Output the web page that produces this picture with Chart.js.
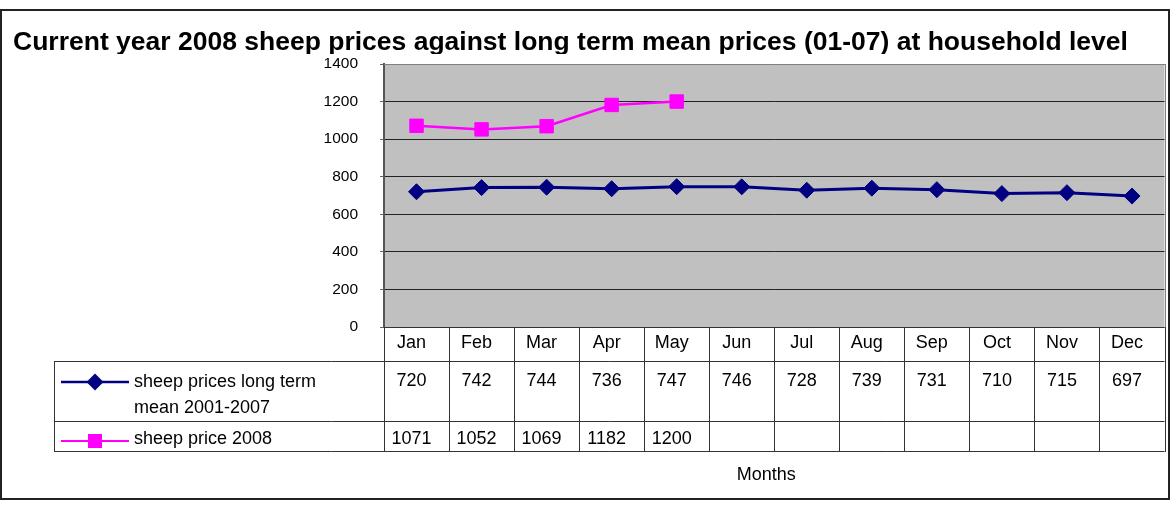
<!DOCTYPE html>
<html>
<head>
<meta charset="utf-8">
<script src="https://cdn.jsdelivr.net/npm/chart.js@4/dist/chart.umd.min.js"></script>
<style>
html,body{margin:0;padding:0;background:#fff;}
#wrap{width:1175px;height:508px;position:relative;}
canvas{display:block;}
</style>
</head>
<body>
<div id="wrap"><canvas id="c" width="1175" height="508"></canvas></div>
<script>
// ---- data ----
const categories = ['Jan','Feb','Mar','Apr','May','Jun','Jul','Aug','Sep','Oct','Nov','Dec'];
const longTermMean = [720, 742, 744, 736, 747, 746, 728, 739, 731, 710, 715, 697];
const price2008 = [1071, 1052, 1069, 1182, 1200, null, null, null, null, null, null, null];
const yTicks = [0, 200, 400, 600, 800, 1000, 1200, 1400];
const seriesNames = [['sheep prices long term', 'mean 2001-2007'], ['sheep price 2008']];
const chartTitle = 'Current year 2008 sheep prices against long term mean prices (01-07) at household level';
const xAxisTitle = 'Months';

const FONT = "'Liberation Sans', Arial, Helvetica, sans-serif";
const BLUE = '#000080';
const PINK = '#FF00FF';

function hline(ctx, x1, x2, y) { ctx.beginPath(); ctx.moveTo(x1, Math.round(y) + 0.5); ctx.lineTo(x2, Math.round(y) + 0.5); ctx.stroke(); }
function vline(ctx, x, y1, y2) { ctx.beginPath(); ctx.moveTo(Math.round(x) + 0.5, y1); ctx.lineTo(Math.round(x) + 0.5, y2); ctx.stroke(); }

function diamond(ctx, x, y, r, color) {
  ctx.beginPath();
  ctx.moveTo(x - r, y); ctx.lineTo(x, y - r); ctx.lineTo(x + r, y); ctx.lineTo(x, y + r);
  ctx.closePath(); ctx.fillStyle = color; ctx.fill();
}
function square(ctx, x, y, s, color) {
  ctx.fillStyle = color; ctx.fillRect(x - s / 2, y - s / 2, s, s);
}

const tablePlugin = {
  id: 'tablePlugin',
  beforeDraw(chart) {
    const { ctx, chartArea: a } = chart;
    ctx.save();
    ctx.fillStyle = '#fff';
    ctx.fillRect(0, 0, chart.width, chart.height);
    ctx.strokeStyle = '#222';
    ctx.lineWidth = 2;
    ctx.strokeRect(1, 10, 1168, 489);
    ctx.fillStyle = '#C0C0C0';
    ctx.fillRect(a.left, a.top, a.right - a.left, a.bottom - a.top);
    // title (clipped at its bottom like the original text box)
    ctx.beginPath();
    ctx.rect(0, 0, chart.width, 54);
    ctx.clip();
    ctx.fillStyle = '#000';
    ctx.font = 'bold 26.5px ' + FONT;
    ctx.textAlign = 'left';
    ctx.textBaseline = 'alphabetic';
    ctx.fillText(chartTitle, 13, 50);
    ctx.restore();
  },
  afterDraw(chart) {
    const { ctx, chartArea: a } = chart;
    const xs = chart.scales.x;
    const n = categories.length;
    const w = xs.getPixelForValue(1) - xs.getPixelForValue(0);
    const edges = [];
    for (let i = 0; i < n; i++) edges.push(xs.getPixelForValue(i) - w / 2);
    edges.push(xs.getPixelForValue(n - 1) + w / 2);

    ctx.save();
    // plot border
    ctx.strokeStyle = '#808080';
    ctx.lineWidth = 1;
    hline(ctx, a.left, a.right, a.top);
    vline(ctx, a.right, a.top, a.bottom);

    const r0 = Math.round(a.bottom), r1 = r0 + 34, r2 = r1 + 60, r3 = r2 + 30;
    const legL = 54;
    ctx.strokeStyle = '#333';
    ctx.lineWidth = 1;
    hline(ctx, a.left, a.right, r0);
    hline(ctx, legL, a.right, r1);
    hline(ctx, legL, a.right, r2);
    hline(ctx, legL, a.right, r3);
    edges.forEach(x => vline(ctx, x, r0, r3 + 1));
    vline(ctx, legL, r1, r3 + 1);

    ctx.fillStyle = '#000';
    ctx.font = '18px ' + FONT;
    ctx.textAlign = 'center';
    ctx.textBaseline = 'alphabetic';
    categories.forEach((c, i) => {
      const cx = xs.getPixelForValue(i) - 5;
      ctx.fillText(c, cx, r0 + 21);
      if (longTermMean[i] != null) ctx.fillText(String(longTermMean[i]), cx, r1 + 25);
      if (price2008[i] != null) ctx.fillText(String(price2008[i]), cx, r2 + 23);
    });

    // legend keys
    ctx.textAlign = 'left';
    ctx.fillText(seriesNames[0][0], 134, r1 + 26);
    ctx.fillText(seriesNames[0][1], 134, r1 + 52);
    ctx.fillText(seriesNames[1][0], 134, r2 + 23);

    ctx.lineWidth = 2.5;
    ctx.strokeStyle = BLUE;
    ctx.beginPath(); ctx.moveTo(61, r1 + 21); ctx.lineTo(129, r1 + 21); ctx.stroke();
    diamond(ctx, 95, r1 + 21, 8.5, BLUE);
    ctx.lineWidth = 2;
    ctx.strokeStyle = PINK;
    ctx.beginPath(); ctx.moveTo(61, r2 + 20); ctx.lineTo(129, r2 + 20); ctx.stroke();
    square(ctx, 95, r2 + 20, 14, PINK);

    // axis title
    ctx.fillStyle = '#000';
    ctx.textAlign = 'center';
    ctx.fillText(xAxisTitle, (a.left + a.right) / 2 - 8, 480);
    ctx.restore();
  }
};

new Chart(document.getElementById('c'), {
  type: 'line',
  data: {
    labels: categories,
    datasets: [
      {
        label: seriesNames[0].join(' '),
        data: longTermMean,
        borderColor: BLUE,
        backgroundColor: BLUE,
        borderWidth: 3,
        pointStyle: 'rectRot',
        pointRadius: 8,
        pointBorderWidth: 1,
        pointHoverRadius: 8,
        tension: 0
      },
      {
        label: seriesNames[1][0],
        data: price2008,
        borderColor: PINK,
        backgroundColor: PINK,
        borderWidth: 2.5,
        pointStyle: 'rect',
        pointRadius: 9.5,
        pointBorderWidth: 1,
        pointHoverRadius: 9.5,
        spanGaps: false,
        tension: 0
      }
    ]
  },
  options: {
    responsive: false,
    animation: false,
    devicePixelRatio: 1,
    layout: { padding: { left: 13, top: 64, right: 7, bottom: 181 } },
    plugins: {
      legend: { display: false },
      tooltip: { enabled: false },
      title: { display: false }
    },
    scales: {
      x: {
        type: 'category',
        display: false,
        offset: true
      },
      y: {
        min: 0,
        max: 1400,
        afterFit(scale) { scale.width = 371; },
        afterBuildTicks(scale) { scale.ticks = yTicks.map(v => ({ value: v })); },
        ticks: {
          color: '#000',
          font: { family: FONT, size: 15.5 },
          padding: 22,
          callback: (v) => String(v)
        },
        grid: { color: '#222', lineWidth: 1, tickLength: 4, tickColor: '#666', drawTicks: true },
        border: { display: true, color: '#555', width: 2 }
      }
    }
  },
  plugins: [tablePlugin]
});
</script>
</body>
</html>
